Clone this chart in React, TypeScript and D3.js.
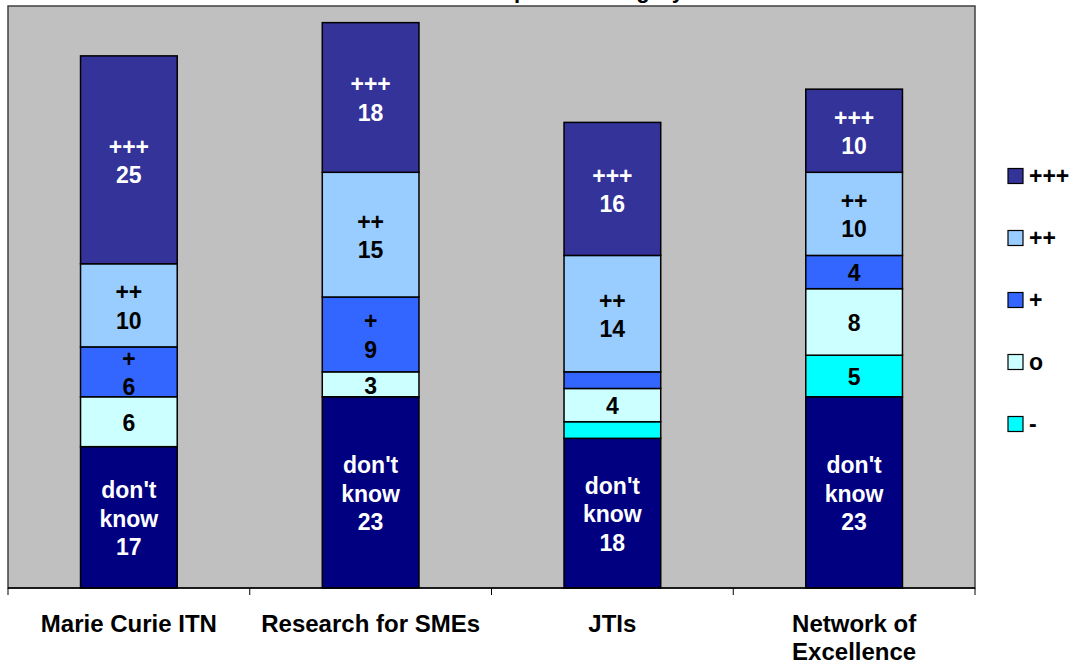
import React from "react";
import * as d3 from "d3";

// Categories and stacked series (bottom to top)
const categories = ["Marie Curie ITN", "Research for SMEs", "JTIs", "Network of Excellence"];
const seriesKeys = ["dontKnow", "minus", "neutral", "plus", "plusPlus", "plusPlusPlus"];
const seriesNames = ["don't know", "-", "o", "+", "++", "+++"];
const seriesColors = ["#000080", "#00FFFF", "#CCFFFF", "#3366FF", "#99CCFF", "#333399"];
const seriesTextColors = ["#ffffff", "#000000", "#000000", "#000000", "#000000", "#ffffff"];

const dontKnow = [17, 23, 18, 23];
const minus = [0, 0, 2, 5];
const neutral = [6, 3, 4, 8];
const plus = [6, 9, 2, 4];
const plusPlus = [10, 15, 14, 10];
const plusPlusPlus = [25, 18, 16, 10];

// Data label style per segment: name + value, value only, or nothing
const dontKnowLabels = ["full", "full", "full", "full"];
const minusLabels = ["none", "none", "none", "value"];
const neutralLabels = ["value", "value", "value", "value"];
const plusLabels = ["full", "full", "none", "value"];
const plusPlusLabels = ["full", "full", "full", "full"];
const plusPlusPlusLabels = ["full", "full", "full", "full"];

const legendKeys = ["plusPlusPlus", "plusPlus", "plus", "neutral", "minus"];
const titleText = "Overall impact of category";
const yMax = 70;

const seriesValues = [dontKnow, minus, neutral, plus, plusPlus, plusPlusPlus];
const seriesLabels = [dontKnowLabels, minusLabels, neutralLabels, plusLabels, plusPlusLabels, plusPlusPlusLabels];

const FONT = "'Liberation Sans', Arial, Helvetica, sans-serif";

function wrapText(text: string, maxWidth: number, font: string): string[] {
  const ctx = document.createElement("canvas").getContext("2d");
  if (!ctx) return [text];
  ctx.font = font;
  const words = text.split(" ");
  const lines: string[] = [];
  let line = "";
  for (const w of words) {
    const test = line ? line + " " + w : w;
    if (line && ctx.measureText(test).width > maxWidth) {
      lines.push(line);
      line = w;
    } else {
      line = test;
    }
  }
  if (line) lines.push(line);
  return lines;
}

export default function App() {
  const W = 1076;
  const H = 664;
  const plot = { left: 8, right: 975, top: 6, bottom: 588 };

  const rows = categories.map((c, i) => {
    const r: any = { category: c };
    seriesKeys.forEach((k, s) => (r[k] = seriesValues[s][i]));
    return r;
  });
  const stacked = d3.stack().keys(seriesKeys)(rows);

  const x = d3
    .scaleBand()
    .domain(categories)
    .range([plot.left, plot.right])
    .paddingInner(0.6)
    .paddingOuter(0.3);
  const y = d3.scaleLinear().domain([0, yMax]).range([plot.bottom, plot.top]);

  const step = x.step();
  const tickXs = d3.range(categories.length + 1).map((i) => plot.left + i * step);

  const labelFont = 23;
  const lineH = 28.5;
  const catFont = 24;

  return (
    <svg
      width={W}
      height={H}
      style={{ position: "absolute", left: 0, top: 0, background: "#ffffff" }}
      fontFamily={FONT}
      fontWeight="bold"
    >
      <text x={684} y={-2} textAnchor="end" fontSize={22} fill="#000">
        {titleText}
      </text>

      {/* plot area */}
      <rect
        x={plot.left}
        y={plot.top}
        width={plot.right - plot.left}
        height={plot.bottom - plot.top}
        fill="#C0C0C0"
        stroke="#404040"
        strokeWidth={1.5}
      />

      {/* stacked bars */}
      {stacked.map((layer, s) =>
        layer.map((d, i) => {
          const v = d[1] - d[0];
          if (v <= 0) return null;
          const bx = x(categories[i])!;
          const y0 = y(d[0]);
          const y1 = y(d[1]);
          return (
            <rect
              key={`${s}-${i}`}
              x={bx}
              y={y1}
              width={x.bandwidth()}
              height={y0 - y1}
              fill={seriesColors[s]}
              stroke="#000"
              strokeWidth={1.5}
            />
          );
        })
      )}

      {/* data labels */}
      {stacked.map((layer, s) =>
        layer.map((d, i) => {
          const v = d[1] - d[0];
          const mode = seriesLabels[s][i];
          if (v <= 0 || mode === "none") return null;
          const lines =
            mode === "full" ? [...seriesNames[s].split(" "), String(v)] : [String(v)];
          const cx = x(categories[i])! + x.bandwidth() / 2;
          const mid = (y(d[0]) + y(d[1])) / 2;
          const first = mid - ((lines.length - 1) / 2) * lineH + labelFont * 0.4;
          return (
            <text
              key={`l${s}-${i}`}
              textAnchor="middle"
              fontSize={labelFont}
              fill={seriesTextColors[s]}
            >
              {lines.map((ln, j) => (
                <tspan key={j} x={cx} y={first + j * lineH}>
                  {ln}
                </tspan>
              ))}
            </text>
          );
        })
      )}

      {/* category axis */}
      <line x1={plot.left} x2={plot.right} y1={plot.bottom} y2={plot.bottom} stroke="#000" strokeWidth={1.5} />
      {tickXs.map((tx, i) => (
        <line key={i} x1={tx} x2={tx} y1={plot.bottom} y2={plot.bottom + 7} stroke="#000" strokeWidth={1} />
      ))}
      {categories.map((c) => {
        const lines = wrapText(c, step - 6, `bold ${catFont}px ${FONT}`);
        const cx = x(c)! + x.bandwidth() / 2;
        return (
          <text key={c} textAnchor="middle" fontSize={catFont} fill="#000">
            {lines.map((ln, j) => (
              <tspan key={j} x={cx} y={632 + j * 28}>
                {ln}
              </tspan>
            ))}
          </text>
        );
      })}

      {/* legend */}
      {legendKeys.map((k, i) => {
        const s = seriesKeys.indexOf(k);
        const cy = 176 + i * 62;
        return (
          <g key={k}>
            <rect x={1008} y={cy - 7.5} width={15} height={15} fill={seriesColors[s]} stroke="#000" strokeWidth={1.2} />
            <text x={1029} y={cy + 8} fontSize={labelFont} fill="#000">
              {seriesNames[s]}
            </text>
          </g>
        );
      })}
    </svg>
  );
}
